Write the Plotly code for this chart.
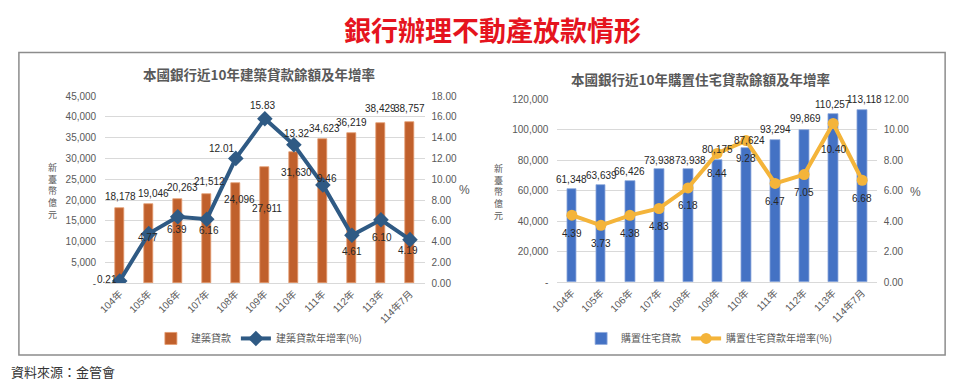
import plotly.graph_objects as go

# ---------------- data ----------------
categories = ["104年", "105年", "106年", "107年", "108年", "109年", "110年", "111年", "112年", "113年", "114年7月"]

construction_loans = [18178, 19046, 20263, 21512, 24096, 27911, 31630, 34623, 36219, 38429, 38757]
construction_growth = [0.21, 4.77, 6.39, 6.16, 12.01, 15.83, 13.32, 9.46, 4.61, 6.10, 4.19]

housing_loans = [61348, 63639, 66426, 73938, 73938, 80175, 87624, 93294, 99869, 110257, 113118]
housing_growth = [4.39, 3.73, 4.38, 4.83, 6.18, 8.44, 9.28, 6.47, 7.05, 10.40, 6.68]

left_y_ticks = [0, 5000, 10000, 15000, 20000, 25000, 30000, 35000, 40000, 45000]
left_y2_ticks = [0, 2, 4, 6, 8, 10, 12, 14, 16, 18]
right_y_ticks = [0, 20000, 40000, 60000, 80000, 100000, 120000]
right_y2_ticks = [0, 2, 4, 6, 8, 10, 12]

# ---------------- styles ----------------
W, H = 960, 390
FONT = "Liberation Sans, Noto Sans CJK TC, sans-serif"
CJK = "Noto Sans CJK TC, sans-serif"
AX_COL = "#595959"
LBL_COL = "#262626"
GRID = "#D9D9D9"
BROWN = "#C0602C"
NAVY = "#2F5A84"
BLUE = "#4472C4"
GOLD = "#F4B43A"

# label offsets in pixels (dx, dy, with dy positive = down)
lb_off = [(1, -11), (5, -11), (5, -11), (3, -12), (4, 16), (2, 41), (3, 21), (2, -11), (0, -10), (0, -15), (0, -14)]
lr_off = [(-13, -2), (-1, 4), (-1, 13), (2, 11), (-14, -10), (-2, -13), (3, -11), (4, -6), (0, 16), (1, 18), (-2, 11)]
rb_off = [(0, -9), (1, -10), (0, -9), (1, -9), (2, -9), (0, -10), (3, -8), (0, -10), (1, -11), (0, -9), (2, -10)]
rr_off = [(0, 18), (0, 18), (0, 18), (0, 18), (0, 18), (0, 20), (0, 18), (0, 18), (0, 18), (0, 26), (0, 18)]


def px(x):
    return x / W


def py(y):
    return 1 - y / H


fig = go.Figure()

# Left chart
fig.add_trace(go.Bar(
    x=categories, y=construction_loans, name="建築貸款",
    marker=dict(color=BROWN, line=dict(color="#E39A6E", width=0.8)),
    width=0.31, xaxis="x", yaxis="y", legend="legend", hoverinfo="skip"))
fig.add_trace(go.Scatter(
    x=categories, y=construction_growth, name="建築貸款年增率(%)",
    mode="lines+markers", line=dict(color=NAVY, width=4),
    marker=dict(symbol="diamond", size=12, color=NAVY),
    xaxis="x", yaxis="y2", legend="legend", hoverinfo="skip"))

# Right chart
fig.add_trace(go.Bar(
    x=categories, y=housing_loans, name="購置住宅貸款",
    marker=dict(color=BLUE, line=dict(color="#8FAADC", width=0.8)),
    width=0.34, xaxis="x2", yaxis="y3", legend="legend2", hoverinfo="skip"))
fig.add_trace(go.Scatter(
    x=categories, y=housing_growth, name="購置住宅貸款年增率(%)",
    mode="lines+markers", line=dict(color=GOLD, width=4),
    marker=dict(symbol="circle", size=11, color=GOLD),
    xaxis="x2", yaxis="y4", legend="legend2", hoverinfo="skip"))

annotations = []
lab_font = dict(family=FONT, size=10, color=LBL_COL)


def add_labels(values, fmt, xref, yref, offs):
    for c, v, (dx, dy) in zip(categories, values, offs):
        annotations.append(dict(x=c, y=v, xref=xref, yref=yref, text=fmt(v),
                                showarrow=False, xshift=dx, yshift=-dy,
                                font=lab_font, xanchor="center", yanchor="middle"))


add_labels(construction_loans, lambda v: f"{v:,}", "x", "y", lb_off)
add_labels(construction_growth, lambda v: f"{v:.2f}", "x", "y2", lr_off)
add_labels(housing_loans, lambda v: f"{v:,}", "x2", "y3", rb_off)
add_labels(housing_growth, lambda v: f"{v:.2f}", "x2", "y4", rr_off)

# Titles and side texts
annotations += [
    dict(x=px(489), y=py(24), xref="paper", yref="paper", text="<b>銀行辦理不動產放款情形</b>",
         showarrow=False, font=dict(family=CJK, size=27, color="#E5141E"),
         xanchor="center", yanchor="middle"),
    dict(x=px(253), y=py(70), xref="paper", yref="paper", text="<b>本國銀行近10年建築貸款餘額及年增率</b>",
         showarrow=False, font=dict(family=CJK, size=13.5, color=AX_COL),
         xanchor="center", yanchor="middle"),
    dict(x=px(698), y=py(75), xref="paper", yref="paper", text="<b>本國銀行近10年購置住宅貸款餘額及年增率</b>",
         showarrow=False, font=dict(family=CJK, size=13.5, color=AX_COL),
         xanchor="center", yanchor="middle"),
    dict(x=px(45), y=py(191), xref="paper", yref="paper", text="新<br>臺<br>幣<br>億<br>元",
         showarrow=False, font=dict(family=CJK, size=9, color=AX_COL),
         xanchor="center", yanchor="middle"),
    dict(x=px(495), y=py(192), xref="paper", yref="paper", text="新<br>臺<br>幣<br>億<br>元",
         showarrow=False, font=dict(family=CJK, size=9, color=AX_COL),
         xanchor="center", yanchor="middle"),
    dict(x=px(460), y=py(190), xref="paper", yref="paper", text="%",
         showarrow=False, font=dict(family=FONT, size=12, color=AX_COL),
         xanchor="center", yanchor="middle"),
    dict(x=px(915), y=py(192), xref="paper", yref="paper", text="%",
         showarrow=False, font=dict(family=FONT, size=12, color=AX_COL),
         xanchor="center", yanchor="middle"),
    dict(x=px(1), y=py(377), xref="paper", yref="paper", text="資料來源：金管會",
         showarrow=False, font=dict(family=CJK, size=13, color="#333333"),
         xanchor="left", yanchor="middle"),
]

tick_font = dict(family=FONT, size=10, color=AX_COL)


def yfmt(vals):
    return [("-" if v == 0 else f"{v:,}") for v in vals]


fig.update_layout(
    width=W, height=H, margin=dict(l=0, r=0, t=0, b=0),
    paper_bgcolor="white", plot_bgcolor="white",
    showlegend=True, bargap=0,
    font=dict(family=FONT),
    annotations=annotations,
    xaxis=dict(domain=[px(98), px(420)], anchor="y", type="category", tickangle=-45,
               tickfont=tick_font, showgrid=False, showline=True, linecolor=GRID,
               ticks="", range=[-0.5, 10.5]),
    yaxis=dict(domain=[py(286), py(93)], anchor="x", range=[0, 45000], tickvals=left_y_ticks,
               ticktext=yfmt(left_y_ticks), tickfont=tick_font, showgrid=True, gridcolor=GRID,
               gridwidth=1, zeroline=False, ticks="", ticklabelstandoff=8),
    yaxis2=dict(overlaying="y", side="right", anchor="x", range=[0, 18], tickvals=left_y2_ticks,
                ticktext=[f"{v:.2f}" for v in left_y2_ticks], tickfont=tick_font,
                showgrid=False, zeroline=False, ticks="", ticklabelstandoff=6),
    xaxis2=dict(domain=[px(554), px(876)], anchor="y3", type="category", tickangle=-45,
                tickfont=tick_font, showgrid=False, showline=True, linecolor=GRID,
                ticks="", range=[-0.5, 10.5]),
    yaxis3=dict(domain=[py(285), py(96)], anchor="x2", range=[0, 120000], tickvals=right_y_ticks,
                ticktext=yfmt(right_y_ticks), tickfont=tick_font, showgrid=True, gridcolor=GRID,
                gridwidth=1, zeroline=False, ticks="", ticklabelstandoff=8),
    yaxis4=dict(overlaying="y3", side="right", anchor="x2", range=[0, 12], tickvals=right_y2_ticks,
                ticktext=[f"{v:.2f}" for v in right_y2_ticks], tickfont=tick_font,
                showgrid=False, zeroline=False, ticks="", ticklabelstandoff=6),
    legend=dict(orientation="h", x=px(253), y=py(343), xanchor="center", yanchor="middle",
                font=dict(family=CJK, size=10, color=AX_COL), bgcolor="rgba(0,0,0,0)",
                itemwidth=30),
    legend2=dict(orientation="h", x=px(707), y=py(343), xanchor="center", yanchor="middle",
                 font=dict(family=CJK, size=10, color=AX_COL), bgcolor="rgba(0,0,0,0)",
                 itemwidth=30),
    shapes=[dict(type="rect", xref="paper", yref="paper", x0=px(11), x1=px(945),
                 y0=py(360), y1=py(48), line=dict(color="#8C8C8C", width=1.5),
                 fillcolor="rgba(0,0,0,0)", layer="below")],
)

fig.write_html(
    "out.html",
    config={"displayModeBar": False},
    post_script="document.body.style.margin='0';document.body.style.overflow='hidden';",
)
